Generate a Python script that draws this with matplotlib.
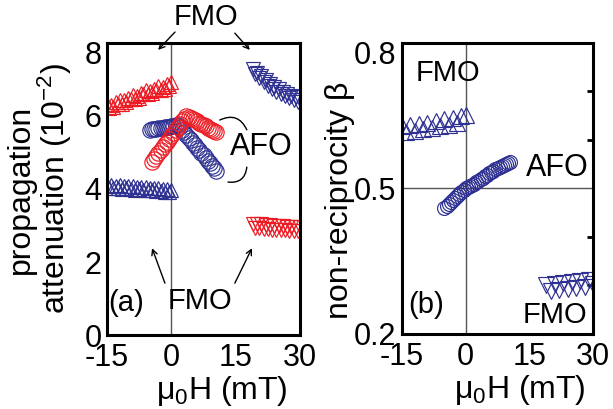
import matplotlib
matplotlib.use("Agg")
import matplotlib.pyplot as plt
from matplotlib.ticker import MultipleLocator
from matplotlib.transforms import ScaledTranslation

plt.rcParams['font.family'] = ['Liberation Sans', 'DejaVu Sans']
plt.rcParams['mathtext.fontset'] = 'custom'
plt.rcParams['mathtext.rm'] = 'Liberation Sans'
plt.rcParams['mathtext.it'] = 'Liberation Sans:italic'

RED = '#ed1c24'
BLUE = '#2e3192'

# field sweeps (mT)
h_fm_neg = [-15.0, -14.5, -14.0, -13.5, -13.0, -12.5, -12.0, -11.5, -11.0, -10.5,
            -10.0, -9.5, -9.0, -8.5, -8.0, -7.5, -7.0, -6.5, -6.0, -5.5,
            -5.0, -4.5, -4.0, -3.5, -3.0, -2.5, -2.0, -1.5, -1.0, -0.5, 0.0]
h_fm_pos = [19.0, 19.5, 20.0, 20.5, 21.0, 21.5, 22.0, 22.5, 23.0, 23.5, 24.0, 24.5,
            25.0, 25.5, 26.0, 26.5, 27.0, 27.5, 28.0, 28.5, 29.0, 29.5, 30.0]
h_af_red = [-4.5, -4.0, -3.5, -3.0, -2.5, -2.0, -1.5, -1.0, -0.5, 0.0, 0.5,
            1.0, 1.5, 2.0, 2.5, 3.0, 3.5, 4.0, 4.5, 5.0, 5.5, 6.0,
            6.5, 7.0, 7.5, 8.0, 8.5, 9.0, 9.5, 10.0, 10.5]
h_af_blue = [-5.0, -4.5, -4.0, -3.5, -3.0, -2.5, -2.0, -1.5, -1.0, -0.5, 0.0,
             0.5, 1.0, 1.5, 2.0, 2.5, 3.0, 3.5, 4.0, 4.5, 5.0, 5.5,
             6.0, 6.5, 7.0, 7.5, 8.0, 8.5, 9.0, 9.5, 10.0, 10.5]

# (a) attenuation, units of 1e-2
att_fm_neg_red = [6.32, 6.23, 6.31, 6.25, 6.38, 6.34, 6.45, 6.34, 6.43, 6.37,
                  6.50, 6.46, 6.57, 6.46, 6.55, 6.50, 6.63, 6.59, 6.70, 6.59,
                  6.68, 6.62, 6.75, 6.71, 6.82, 6.71, 6.80, 6.74, 6.87, 6.83, 6.92]
att_fm_neg_blue = [4.12, 4.03, 4.10, 4.02, 4.09, 4.04, 4.11, 4.00, 4.08, 4.02,
                   4.07, 4.00, 4.09, 3.98, 4.06, 4.00, 4.06, 3.98, 4.05, 3.96,
                   4.04, 3.97, 4.03, 3.95, 4.02, 3.94, 4.01, 3.93, 4.00, 3.92, 3.97]
att_fm_pos_blue = [7.30, 7.16, 7.19, 7.04, 7.09, 6.93, 6.98, 6.83, 6.88, 6.73, 6.79, 6.66,
                   6.73, 6.60, 6.67, 6.54, 6.61, 6.48, 6.56, 6.43, 6.51, 6.38, 6.44]
att_fm_pos_red = [3.05, 2.94, 3.04, 2.92, 3.03, 2.91, 3.02, 2.90, 3.01, 2.89, 3.00, 2.88,
                  2.99, 2.87, 2.98, 2.87, 2.97, 2.86, 2.97, 2.86, 2.96, 2.86, 2.95]
att_af_red = [4.75, 4.83, 4.91, 4.99, 5.06, 5.14, 5.22, 5.30, 5.38, 5.46, 5.53,
              5.61, 5.69, 5.77, 5.85, 5.93, 6.00, 5.98, 5.95, 5.91, 5.88, 5.85,
              5.82, 5.78, 5.75, 5.72, 5.68, 5.65, 5.62, 5.58, 5.55]
att_af_blue = [5.62, 5.63, 5.64, 5.65, 5.66, 5.67, 5.68, 5.69, 5.70, 5.71, 5.72,
               5.73, 5.74, 5.74, 5.69, 5.62, 5.55, 5.48, 5.41, 5.34, 5.27, 5.20,
               5.13, 5.06, 4.99, 4.92, 4.85, 4.78, 4.71, 4.64, 4.57, 4.50]

# (b) non-reciprocity beta
h_b_neg = [-15, -14, -13, -12, -11, -10, -9, -8, -7, -6, -5, -4, -3, -2, -1, 0]
h_b_pos = [19, 20, 21, 22, 23, 24, 25, 26, 27, 28, 29, 30]
beta_fm_neg = [0.628, 0.617, 0.630, 0.619, 0.633, 0.622, 0.636, 0.625, 0.640, 0.628,
               0.643, 0.631, 0.646, 0.635, 0.649, 0.652]
beta_fm_pos = [0.300, 0.289, 0.303, 0.291, 0.305, 0.293, 0.307, 0.295, 0.309, 0.297,
               0.311, 0.303]
beta_af = [0.460, 0.464, 0.468, 0.472, 0.476, 0.480, 0.484, 0.488, 0.492, 0.496, 0.500,
           0.503, 0.505, 0.508, 0.510, 0.513, 0.516, 0.519, 0.522, 0.525, 0.528, 0.531,
           0.534, 0.537, 0.540, 0.542, 0.544, 0.546, 0.548, 0.550, 0.552, 0.555]

fig = plt.figure(figsize=(6.13, 4.09), dpi=100)
ax1 = fig.add_axes([0.1746, 0.1809, 0.3148, 0.714])
ax2 = fig.add_axes([0.6558, 0.1834, 0.3116, 0.7115])

mk = dict(linestyle='none', mfc='none', mew=0.85)

# ---- (a)
ax1.axvline(0, color='#555555', lw=1.0, zorder=1)
ax1.plot(h_fm_neg, att_fm_neg_red, '^', ms=10.5, mec=RED, **mk)
ax1.plot(h_fm_neg, att_fm_neg_blue, '^', ms=10.5, mec=BLUE, **mk)
ax1.plot(h_fm_pos, att_fm_pos_blue, 'v', ms=10.5, mec=BLUE, **mk)
ax1.plot(h_fm_pos, att_fm_pos_red, 'v', ms=10.5, mec=RED, **mk)
ax1.plot(h_af_blue, att_af_blue, 'o', ms=11, mec=BLUE, **mk)
ax1.plot(h_af_red, att_af_red, 'o', ms=11, mec=RED, **mk)
ax1.set_xlim(-15, 30)
ax1.set_ylim(0, 8)
ax1.set_yticks([0, 2, 4, 6, 8])
ax1.set_ylabel('propagation\nattenuation (10$^{-2}$)', fontsize=23, linespacing=1.0)
ax1.yaxis.set_label_coords(-0.17, 0.5)

arrow = dict(arrowstyle='->', color='black', lw=1.0, shrinkA=0, shrinkB=0)
ax1.text(8.1, 8.71, 'FMO', fontsize=21, ha='center', va='center')
ax1.annotate('', xy=(-3.1, 7.81), xytext=(0.85, 8.30), arrowprops=arrow, annotation_clip=False)
ax1.annotate('', xy=(18.3, 7.81), xytext=(14.8, 8.27), arrowprops=arrow, annotation_clip=False)
ax1.text(6.7, 0.92, 'FMO', fontsize=21, ha='center', va='center')
ax1.annotate('', xy=(-4.5, 2.38), xytext=(-1.5, 1.42), arrowprops=arrow)
ax1.annotate('', xy=(18.8, 2.38), xytext=(14.8, 1.42), arrowprops=arrow)
ax1.text(-10.6, 0.88, '(a)', fontsize=21, ha='center', va='center')
ax1.text(21.0, 5.16, 'AFO', fontsize=22, ha='center', va='center')
brace = dict(arrowstyle='-', color='black', lw=1.0, shrinkA=0, shrinkB=0,
             connectionstyle='arc3,rad=-0.5')
ax1.annotate('', xy=(17.6, 5.62), xytext=(11.3, 5.89), arrowprops=brace)
ax1.annotate('', xy=(13.2, 4.19), xytext=(17.6, 4.60), arrowprops=brace)

# ---- (b)
ax2.axvline(0, color='#555555', lw=1.0, zorder=1)
ax2.axhline(0.5, color='#555555', lw=1.0, zorder=1)
ax2.plot(h_b_neg, beta_fm_neg, '^', ms=11, mec=BLUE, **mk)
ax2.plot(h_b_pos, beta_fm_pos, 'v', ms=11, mec=BLUE, **mk)
ax2.plot(h_af_blue, beta_af, 'o', ms=10, mec=BLUE, **mk)
ax2.set_xlim(-15, 30)
ax2.set_ylim(0.2, 0.8)
ax2.set_yticks([0.2, 0.5, 0.8])
ax2.yaxis.set_minor_locator(MultipleLocator(0.1))
ax2.tick_params(axis='y', which='minor', left=False, right=True, direction='in',
                length=4, width=2)
ax2.set_ylabel('non-reciprocity β', fontsize=23)
ax2.yaxis.set_label_coords(-0.245, 0.46)
ax2.text(-4.2, 0.739, 'FMO', fontsize=21, ha='center', va='center')
ax2.text(21.6, 0.542, 'AFO', fontsize=22, ha='center', va='center')
ax2.text(-9.35, 0.260, '(b)', fontsize=21, ha='center', va='center')
ax2.text(21.0, 0.239, 'FMO', fontsize=21, ha='center', va='center')

for ax, lx in ((ax1, 0.596), (ax2, 0.615)):
    for s in ax.spines.values():
        s.set_linewidth(2.2)
    ax.set_xticks([-15, 0, 15, 30])
    ax.set_xticklabels(['-15', '0', '15', '30'])
    ax.tick_params(axis='both', which='major', length=0, labelsize=22)
    ax.tick_params(axis='x', pad=6)
    ax.tick_params(axis='y', pad=4)
    ax.set_xlabel('μ$_0$H (mT)', fontsize=23)
    ax.xaxis.set_label_coords(lx, -0.135)
    # top tick label sits a little below the frame edge
    top = ax.yaxis.get_major_ticks()[-1].label1
    top.set_transform(top.get_transform() + ScaledTranslation(0, -7 / 72, fig.dpi_scale_trans))

fig.savefig('out.png', dpi=100)
